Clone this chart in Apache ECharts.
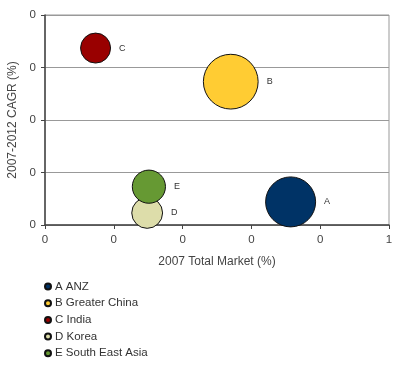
<!DOCTYPE html>
<html>
<head>
<meta charset="utf-8">
<script src="https://cdn.jsdelivr.net/npm/echarts@6/dist/echarts.min.js"></script>
<style>html,body{margin:0;padding:0;background:#fff}#c{width:400px;height:366px}</style>
</head>
<body>
<div id="c"></div>
<script>
var names = ['A ANZ', 'B Greater China', 'C India', 'D Korea', 'E South East Asia'];
var shortLabels = ['A', 'B', 'C', 'D', 'E'];
var marketShare = [0.714, 0.540, 0.147, 0.297, 0.302];
var cagr = [0.044, 0.273, 0.337, 0.023, 0.073];
var bubbleSize = [25, 30, 9, 9.5, 11];
var colors = ['#003366', '#FFCC33', '#990000', '#DDDDAA', '#669933'];
var xTicks = { min: 0, max: 1, interval: 0.2 };
var yTicks = { min: 0, max: 0.4, interval: 0.1 };

function intLabel(v) { return String(Math.floor(v + 1e-9)); }

var series = names.map(function (n, i) {
  return {
    name: n,
    type: 'scatter',
    data: [[marketShare[i], cagr[i], bubbleSize[i]]],
    symbolSize: function (v) { return 10 * Math.sqrt(v[2]); },
    itemStyle: { color: colors[i], borderColor: '#111', borderWidth: 1, opacity: 1 },
    label: {
      show: true, position: 'right', distance: 8,
      formatter: shortLabels[i], fontSize: 9, color: '#333', fontFamily: 'Liberation Sans'
    },
    emphasis: { disabled: true }
  };
});

var chart = echarts.init(document.getElementById('c'));
chart.setOption({
  animation: false,
  textStyle: { fontFamily: 'Liberation Sans' },
  grid: { left: 45, right: 11, top: 15, bottom: 141, show: true, borderColor: '#999', borderWidth: 1, containLabel: false, outerBoundsMode: 'none' },
  xAxis: {
    type: 'value', min: xTicks.min, max: xTicks.max, interval: xTicks.interval,
    name: '2007 Total Market (%)', nameLocation: 'middle', nameGap: 31,
    nameTextStyle: { fontSize: 12, color: '#444' },
    axisLine: { show: true, lineStyle: { color: '#444', width: 1.5 } },
    axisTick: { show: true, length: 4, lineStyle: { color: '#444' } },
    axisLabel: { fontSize: 11.5, color: '#444', margin: 9, formatter: intLabel },
    splitLine: { show: false }
  },
  yAxis: {
    type: 'value', min: yTicks.min, max: yTicks.max, interval: yTicks.interval,
    name: '2007-2012 CAGR (%)', nameLocation: 'middle', nameGap: 22,
    nameTextStyle: { fontSize: 12, color: '#444' },
    axisLine: { show: true, lineStyle: { color: '#444', width: 1.5 } },
    axisTick: { show: true, length: 4, lineStyle: { color: '#444' } },
    axisLabel: { fontSize: 11.5, color: '#444', margin: 9, formatter: intLabel },
    splitLine: { show: true, lineStyle: { color: '#999', width: 1 } }
  },
  legend: {
    orient: 'vertical', left: 39, top: 275, height: 90,
    icon: 'circle', itemWidth: 6, itemHeight: 6, itemGap: 3.7,
    textStyle: { fontSize: 11.5, color: '#333', padding: [0, 0, 0, -1], lineHeight: 13 },
    data: names
  },
  series: series
});
</script>
</body>
</html>
